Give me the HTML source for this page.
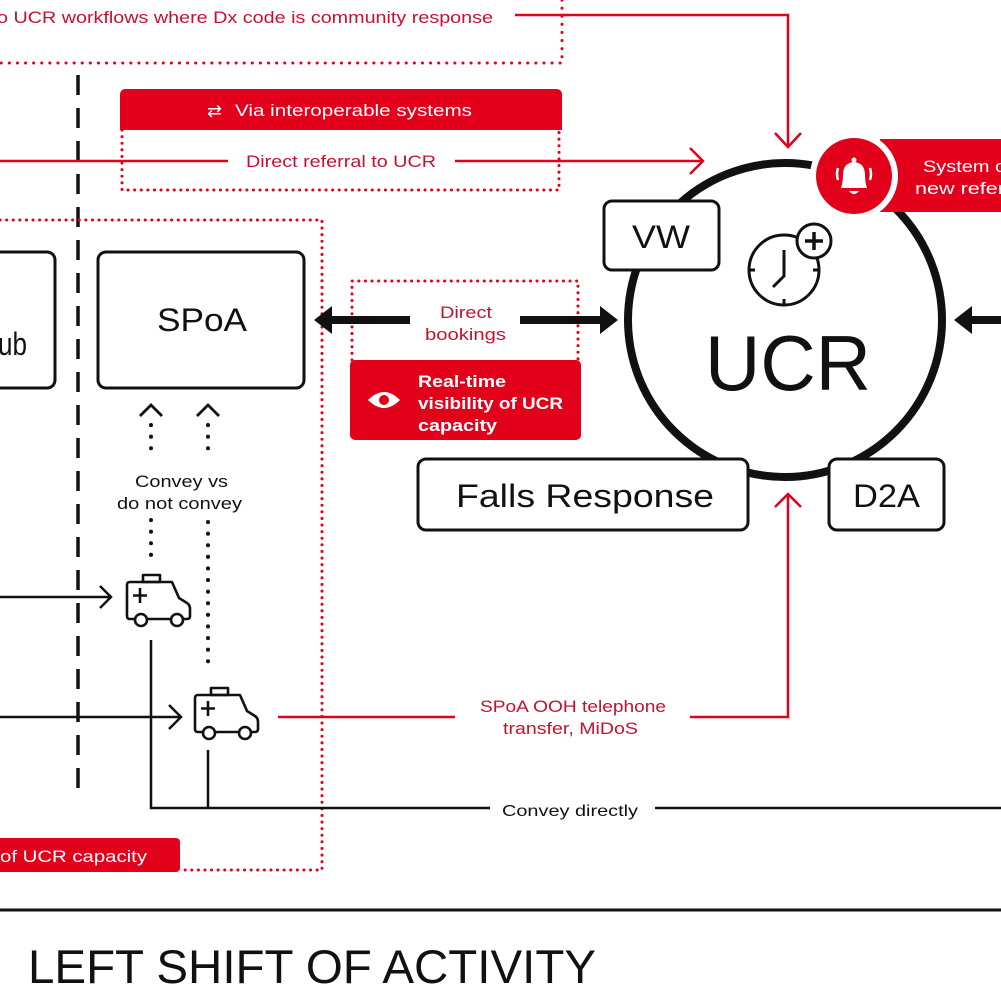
<!DOCTYPE html>
<html><head><meta charset="utf-8"><style>
html,body{margin:0;padding:0;background:#fff;}
svg{display:block;}
text{font-family:"Liberation Sans",sans-serif;}
</style></head><body>
<svg width="1001" height="1001" viewBox="0 0 1001 1001" xmlns="http://www.w3.org/2000/svg">
<defs>
<g id="amb" fill="none" stroke="#111" stroke-width="2.6" stroke-linejoin="round">
  <path d="M3,0 H45 L52,16 L60,21 Q63,23 63,27 V34 Q63,37 60,37 H3 Q0,37 0,34 V3 Q0,0 3,0 Z"/>
  <rect x="16" y="-7" width="17" height="7"/>
  <path d="M13,6 V21 M6,13.5 H20"/>
  <circle cx="14" cy="38" r="6" fill="#fff"/>
  <circle cx="50" cy="38" r="6" fill="#fff"/>
</g>
</defs>
<rect width="1001" height="1001" fill="#fff"/>

<text x="-3" y="23" font-size="17" fill="#c8102e" textLength="496" lengthAdjust="spacingAndGlyphs">o UCR workflows where Dx code is community response</text>
<path d="M515,15 H788 V146" fill="none" stroke="#e2001a" stroke-width="2.5"/>
<path d="M775,133 L788,147 L801,133" fill="none" stroke="#e2001a" stroke-width="2.5"/>
<path d="M562,0 V63 H0" fill="none" stroke="#e2001a" stroke-width="3" stroke-dasharray="0.1 8" stroke-linecap="round"/>

<line x1="78" y1="75" x2="78" y2="800" stroke="#111" stroke-width="3.5" stroke-dasharray="20 13"/>

<path d="M120,130 V95 Q120,89 126,89 H556 Q562,89 562,95 V130 Z" fill="#e2001a"/>
<text x="207" y="117" font-size="18" fill="#fff">⇄</text>
<text x="235" y="116" font-size="17" fill="#fff" textLength="237" lengthAdjust="spacingAndGlyphs">Via interoperable systems</text>
<path d="M122,130 V190 H559 V130" fill="none" stroke="#e2001a" stroke-width="3" stroke-dasharray="0.1 6.5" stroke-linecap="round"/>
<line x1="0" y1="161" x2="228" y2="161" stroke="#e2001a" stroke-width="2.5"/>
<text x="246" y="167" font-size="17" fill="#c8102e" textLength="190" lengthAdjust="spacingAndGlyphs">Direct referral to UCR</text>
<line x1="455" y1="161" x2="702" y2="161" stroke="#e2001a" stroke-width="2.5"/>
<path d="M690,148 L703,161 L690,174" fill="none" stroke="#e2001a" stroke-width="2.5"/>

<path d="M0,220 H322 V870 H180" fill="none" stroke="#e2001a" stroke-width="3" stroke-dasharray="0.1 6.5" stroke-linecap="round"/>
<rect x="-10" y="838" width="190" height="34" rx="4" fill="#e2001a"/>
<text x="0" y="862" font-size="17" fill="#fff" textLength="147" lengthAdjust="spacingAndGlyphs">of UCR capacity</text>

<rect x="-20" y="252" width="75" height="136" rx="8" fill="#fff" stroke="#111" stroke-width="3"/>
<text x="-2" y="355" font-size="32" fill="#111" textLength="29" lengthAdjust="spacingAndGlyphs">ub</text>
<rect x="98" y="252" width="206" height="136" rx="8" fill="#fff" stroke="#111" stroke-width="3"/>
<text x="157" y="331" font-size="32" fill="#111" textLength="90" lengthAdjust="spacingAndGlyphs">SPoA</text>

<path d="M140,416 L151,405 L162,416 M197,416 L208,405 L219,416" fill="none" stroke="#111" stroke-width="2.8"/>
<path d="M151,425 V457 M208,425 V457 M151,520 V556 M208,522 V670" fill="none" stroke="#111" stroke-width="4" stroke-dasharray="0.1 11.5" stroke-linecap="round"/>
<text x="135" y="487" font-size="17" fill="#111" textLength="93" lengthAdjust="spacingAndGlyphs">Convey vs</text>
<text x="117" y="509" font-size="17" fill="#111" textLength="125" lengthAdjust="spacingAndGlyphs">do not convey</text>

<use href="#amb" x="127" y="582"/>
<use href="#amb" x="195" y="695"/>
<line x1="0" y1="597" x2="111" y2="597" stroke="#111" stroke-width="2.5"/>
<path d="M100,586 L111,597 L100,608" fill="none" stroke="#111" stroke-width="2.5"/>
<line x1="0" y1="717" x2="180" y2="717" stroke="#111" stroke-width="2.5"/>
<path d="M169,705 L181,717 L169,729" fill="none" stroke="#111" stroke-width="2.5"/>
<path d="M151,640 V808 H490 M208,750 V808 M655,808 H1001" fill="none" stroke="#111" stroke-width="2.5"/>
<text x="502" y="816" font-size="16" fill="#111" textLength="136" lengthAdjust="spacingAndGlyphs">Convey directly</text>

<line x1="278" y1="717" x2="455" y2="717" stroke="#e2001a" stroke-width="2.5"/>
<text x="480" y="712" font-size="17" fill="#c8102e" textLength="186" lengthAdjust="spacingAndGlyphs">SPoA OOH telephone</text>
<text x="503" y="734" font-size="17" fill="#c8102e" textLength="135" lengthAdjust="spacingAndGlyphs">transfer, MiDoS</text>
<path d="M690,717 H788 V494" fill="none" stroke="#e2001a" stroke-width="2.5"/>
<path d="M775,507 L788,494 L801,507" fill="none" stroke="#e2001a" stroke-width="2.5"/>

<path d="M352,360 V281 H578 V360" fill="none" stroke="#e2001a" stroke-width="3" stroke-dasharray="0.1 6.5" stroke-linecap="round"/>
<text x="440" y="318" font-size="17" fill="#c8102e" textLength="52" lengthAdjust="spacingAndGlyphs">Direct</text>
<text x="425" y="340" font-size="17" fill="#c8102e" textLength="81" lengthAdjust="spacingAndGlyphs">bookings</text>
<line x1="330" y1="320" x2="410" y2="320" stroke="#111" stroke-width="8"/>
<path d="M314,320 L332,306 L332,334 Z" fill="#111"/>
<line x1="520" y1="320" x2="600" y2="320" stroke="#111" stroke-width="8"/>
<path d="M618,320 L600,306 L600,334 Z" fill="#111"/>
<rect x="350" y="360" width="231" height="80" rx="5" fill="#e2001a"/>
<path d="M368,400 Q384,384 400,400 Q384,416 368,400 Z" fill="#fff"/>
<circle cx="384" cy="400" r="5" fill="#e2001a"/>
<text x="418" y="387" font-size="17" fill="#fff" font-weight="bold" textLength="88" lengthAdjust="spacingAndGlyphs">Real-time</text>
<text x="418" y="409" font-size="17" fill="#fff" font-weight="bold" textLength="145" lengthAdjust="spacingAndGlyphs">visibility of UCR</text>
<text x="418" y="431" font-size="17" fill="#fff" font-weight="bold" textLength="79" lengthAdjust="spacingAndGlyphs">capacity</text>

<line x1="1001" y1="320" x2="970" y2="320" stroke="#111" stroke-width="8"/>
<path d="M954,320 L972,306 L972,334 Z" fill="#111"/>

<circle cx="785" cy="320" r="157" fill="#fff" stroke="#111" stroke-width="8"/>
<rect x="880" y="139" width="130" height="73" fill="#e2001a"/>
<circle cx="854" cy="176" r="44" fill="#fff"/>
<circle cx="854" cy="176" r="38" fill="#e2001a"/>
<path d="M841,188 Q843,182 843,175 Q843,163 854,162 Q865,163 865,175 Q865,182 867,188 Z" fill="#fff"/>
<circle cx="854" cy="160" r="2.5" fill="#fff"/>
<path d="M849,191 Q854,197 859,191 Z" fill="#fff"/>
<path d="M838,168 Q836,174 838,180 M870,168 Q872,174 870,180" fill="none" stroke="#fff" stroke-width="2.5"/>
<text x="923" y="172" font-size="17" fill="#fff" textLength="82" lengthAdjust="spacingAndGlyphs">System c</text>
<text x="915" y="194" font-size="17" fill="#fff" textLength="90" lengthAdjust="spacingAndGlyphs">new refer</text>

<circle cx="784" cy="270" r="35" fill="none" stroke="#111" stroke-width="3"/>
<path d="M784,250 V276 L773,287 M749,270 H755 M813,270 H819 M784,299 V305" fill="none" stroke="#111" stroke-width="3"/>
<circle cx="814" cy="241" r="17" fill="#fff" stroke="#111" stroke-width="3"/>
<path d="M814,232 V250 M805,241 H823" stroke="#111" stroke-width="3.5"/>
<text x="705" y="390" font-size="78" fill="#111" textLength="166" lengthAdjust="spacingAndGlyphs">UCR</text>

<rect x="604" y="201" width="115" height="69" rx="8" fill="#fff" stroke="#111" stroke-width="3"/>
<text x="632" y="248" font-size="32" fill="#111" textLength="58" lengthAdjust="spacingAndGlyphs">VW</text>
<rect x="418" y="459" width="330" height="71" rx="8" fill="#fff" stroke="#111" stroke-width="3"/>
<text x="456" y="507" font-size="32" fill="#111" textLength="258" lengthAdjust="spacingAndGlyphs">Falls Response</text>
<rect x="829" y="459" width="115" height="71" rx="8" fill="#fff" stroke="#111" stroke-width="3"/>
<text x="853" y="507" font-size="32" fill="#111" textLength="67" lengthAdjust="spacingAndGlyphs">D2A</text>

<line x1="0" y1="910" x2="1001" y2="910" stroke="#111" stroke-width="3"/>
<text x="28" y="983" font-size="47" fill="#111" textLength="568" lengthAdjust="spacingAndGlyphs">LEFT SHIFT OF ACTIVITY</text>
</svg>
</body></html>
